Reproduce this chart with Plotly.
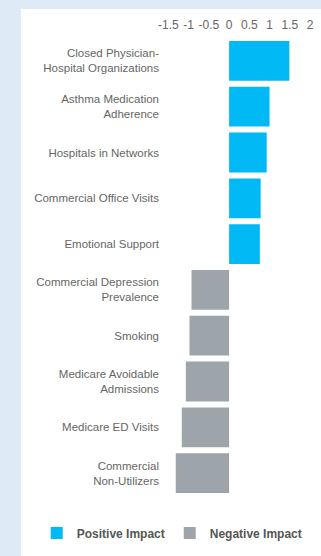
import plotly.graph_objects as go

pos_categories = ["Closed Physician-<br>Hospital Organizations", "Asthma Medication<br>Adherence",
                  "Hospitals in Networks", "Commercial Office Visits", "Emotional Support"]
pos_values = [1.49, 1.0, 0.93, 0.78, 0.76]

neg_categories = ["Commercial Depression<br>Prevalence", "Smoking", "Medicare Avoidable<br>Admissions",
                  "Medicare ED Visits", "Commercial<br>Non-Utilizers"]
neg_values = [-0.93, -0.98, -1.07, -1.17, -1.32]

tick_vals = [-1.5, -1, -0.5, 0, 0.5, 1, 1.5, 2]
tick_text = ["-1.5", "-1", "-0.5", "0", "0.5", "1", "1.5", "2"]

W, H = 321, 556
L, R, T, B = 164, 7, 38, 60
pw, ph = W - L - R, H - T - B

fig = go.Figure()
fig.add_trace(go.Bar(y=pos_categories, x=pos_values, orientation="h", name="Positive Impact",
                     marker=dict(color="#00b9f5", line=dict(width=0))))
fig.add_trace(go.Bar(y=neg_categories, x=neg_values, orientation="h", name="Negative Impact",
                     marker=dict(color="#9ea5aa", line=dict(width=0))))

fig.add_shape(type="rect", xref="paper", yref="paper",
              x0=(19 - L) / pw, x1=(W - L) / pw + 0.05,
              y0=-(B + 5) / ph, y1=(H - B - 9) / ph,
              fillcolor="white", line=dict(width=0), layer="below")

fig.update_layout(
    width=W, height=H,
    margin=dict(l=L, r=R, t=T, b=B),
    paper_bgcolor="#deeaf5",
    plot_bgcolor="white",
    barmode="relative",
    bargap=0.13,
    font=dict(family="Liberation Sans, Arial, sans-serif", size=11.5, color="#666666"),
    xaxis=dict(side="top", range=[-1.61, 2.05], tickvals=tick_vals, ticktext=tick_text,
               showgrid=False, zeroline=False, showline=False, ticks="",
               ticklabelstandoff=6,
               tickfont=dict(size=12, color="#666666"), fixedrange=True),
    yaxis=dict(categoryorder="array", categoryarray=pos_categories + neg_categories,
               autorange="reversed", showgrid=False, zeroline=False, showline=False,
               ticks="", ticklabelstandoff=4,
               tickfont=dict(size=11.5, color="#666666"), fixedrange=True),
    legend=dict(orientation="h", x=(35 - L) / pw, xanchor="left", y=-(533 - (H - B)) / ph,
                yanchor="middle", font=dict(size=12, color="#555555", weight="bold"),
                itemclick=False, bgcolor="rgba(0,0,0,0)"),
    showlegend=True,
)

fig.write_html("out.html")
